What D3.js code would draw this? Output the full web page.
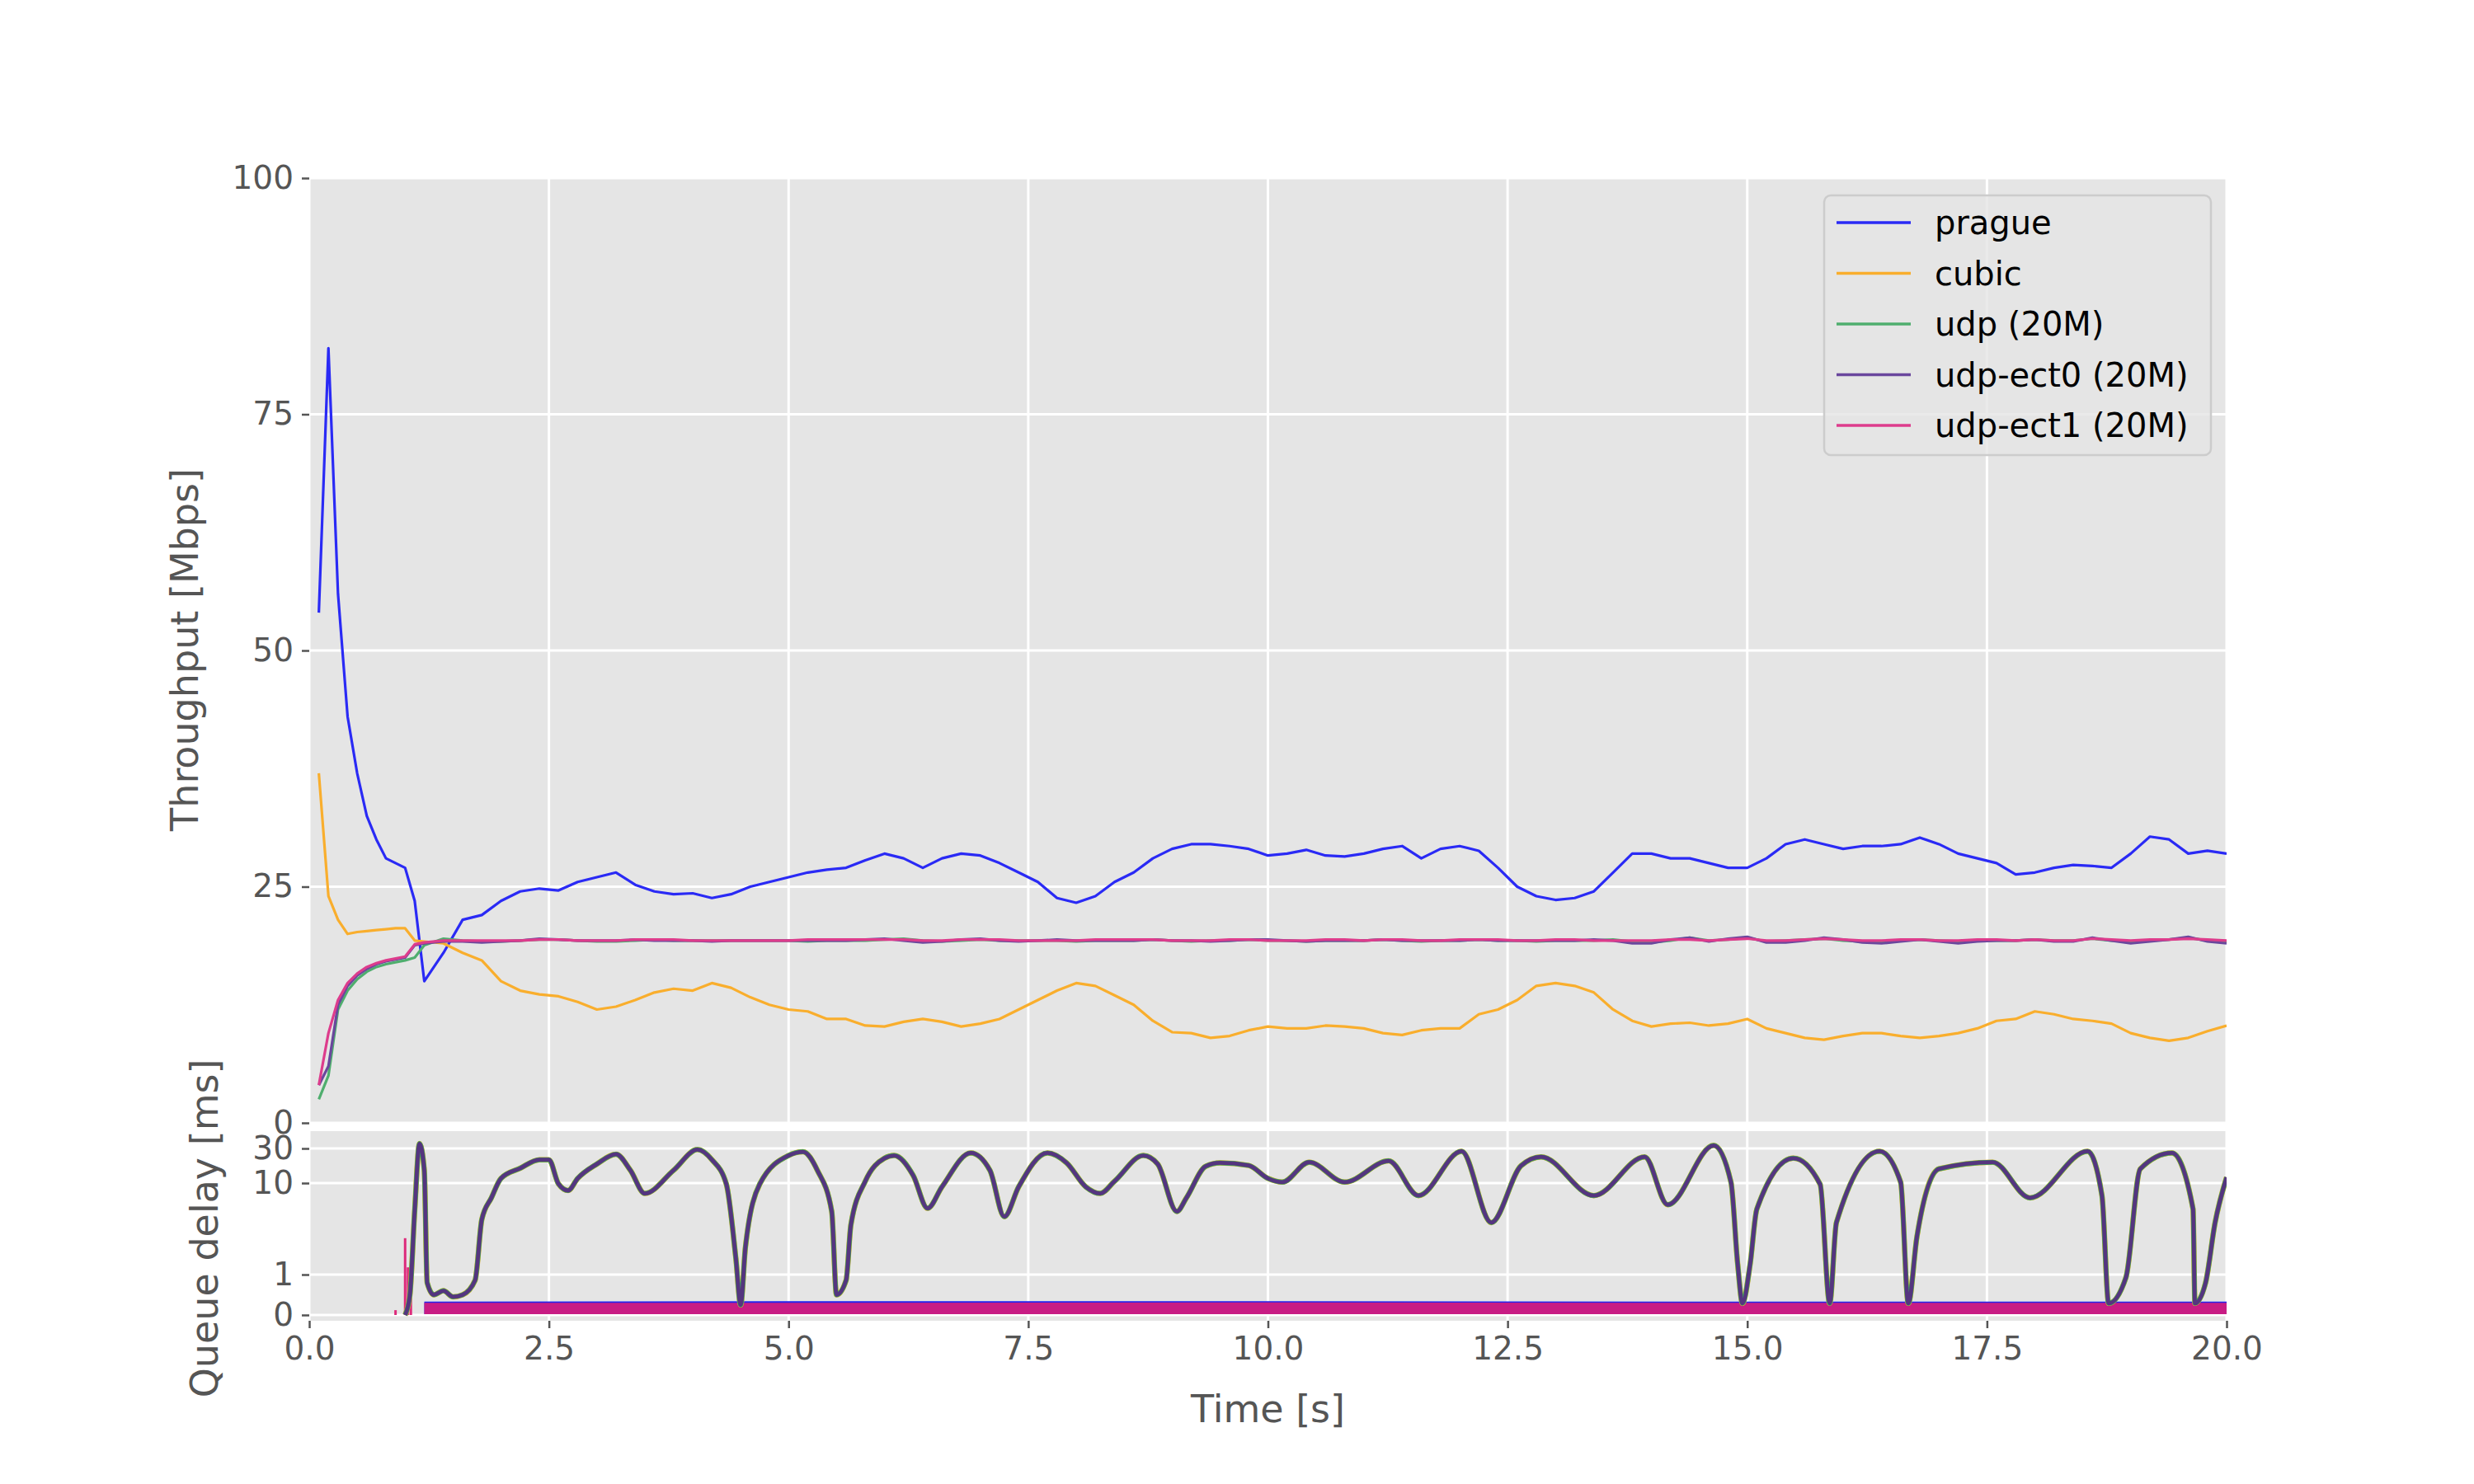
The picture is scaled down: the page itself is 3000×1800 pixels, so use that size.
<!DOCTYPE html>
<html><head><meta charset="utf-8">
<script src="https://cdn.jsdelivr.net/npm/d3@7"></script>
<style>body{margin:0;background:#fff}text{font-family:"DejaVu Sans",sans-serif}</style>
</head><body><svg id="chart" width="3000" height="1800"></svg>
<script>
// throughput samples (s)
const times = [0.1,0.2,0.3,0.4,0.5,0.6,0.7,0.8,0.9,1.0,1.1,1.2,
  1.4,1.6,1.8,2.0,2.2,2.4,2.6,2.8,3.0,3.2,3.4,3.6,3.8,4.0,4.2,4.4,4.6,4.8,5.0,5.2,5.4,5.6,5.8,6.0,
  6.2,6.4,6.6,6.8,7.0,7.2,7.4,7.6,7.8,8.0,8.2,8.4,8.6,8.8,9.0,9.2,9.4,9.6,9.8,10.0,10.2,10.4,10.6,10.8,
  11.0,11.2,11.4,11.6,11.8,12.0,12.2,12.4,12.6,12.8,13.0,13.2,13.4,13.6,13.8,14.0,14.2,14.4,14.6,14.8,
  15.0,15.2,15.4,15.6,15.8,16.0,16.2,16.4,16.6,16.8,17.0,17.2,17.4,17.6,17.8,18.0,18.2,18.4,18.6,18.8,
  19.0,19.2,19.4,19.6,19.8,20.0];
const prague = [54,82,56,43,37,32.5,30,28,27.5,27,23.5,15,
  18,21.5,22,23.5,24.5,24.8,24.6,25.5,26,26.5,25.2,24.5,24.2,24.3,23.8,24.2,25,25.5,26,26.5,26.8,27,27.8,28.5,
  28,27,28,28.5,28.3,27.5,26.5,25.5,23.8,23.3,24,25.5,26.5,28,29,29.5,29.5,29.3,29,28.3,28.5,28.9,28.3,28.2,
  28.5,29,29.3,28,29,29.3,28.8,27,25,24,23.6,23.8,24.5,26.5,28.5,28.5,28,28,27.5,27,
  27,28,29.5,30,29.5,29,29.3,29.3,29.5,30.2,29.5,28.5,28,27.5,26.3,26.5,27,27.3,27.2,27,
  28.5,30.3,30,28.5,28.8,28.5];
const cubic = [37,24,21.5,20,20.2,20.3,20.4,20.5,20.6,20.6,19.3,19.2,
  19,18,17.2,15,14,13.6,13.4,12.8,12,12.3,13,13.8,14.2,14,14.8,14.3,13.3,12.5,12,11.8,11,11,10.3,10.2,
  10.7,11,10.7,10.2,10.5,11,12,13,14,14.8,14.5,13.5,12.5,10.8,9.6,9.5,9,9.2,9.8,10.2,10,10,10.3,10.2,
  10,9.5,9.3,9.8,10,10,11.5,12,13,14.5,14.8,14.5,13.8,12,10.8,10.2,10.5,10.6,10.3,10.5,
  11,10,9.5,9,8.8,9.2,9.5,9.5,9.2,9,9.2,9.5,10,10.8,11,11.8,11.5,11,10.8,10.5,
  9.5,9,8.7,9,9.7,10.3];
const udp = [2.5,5,12,14,15.2,16,16.5,16.8,17,17.2,17.5,18.8,
  19.5,19.3,19.2,19.2,19.3,19.4,19.4,19.3,19.2,19.2,19.3,19.4,19.3,19.3,19.3,19.3,19.3,19.3,19.3,19.2,19.3,19.3,19.3,19.4,
  19.5,19.3,19.2,19.3,19.4,19.3,19.3,19.3,19.3,19.2,19.3,19.3,19.3,19.4,19.3,19.2,19.3,19.3,19.4,19.3,19.3,19.2,19.3,19.3,
  19.3,19.4,19.3,19.2,19.3,19.3,19.4,19.3,19.3,19.2,19.3,19.3,19.3,19.4,19.2,19.1,19.3,19.6,19.3,19.4,
  19.6,19.2,19.3,19.4,19.5,19.3,19.2,19.1,19.3,19.4,19.3,19.2,19.3,19.3,19.3,19.4,19.3,19.3,19.5,19.3,
  19.2,19.3,19.4,19.6,19.3,19.2];
const ect0 = [4,6,12.5,14.5,15.6,16.3,16.8,17.1,17.3,17.5,18.8,19,
  19.2,19.2,19.1,19.2,19.3,19.5,19.4,19.3,19.3,19.3,19.4,19.3,19.3,19.3,19.2,19.3,19.3,19.3,19.3,19.3,19.3,19.3,19.4,19.5,
  19.3,19.1,19.2,19.4,19.5,19.3,19.2,19.3,19.4,19.3,19.3,19.3,19.3,19.4,19.3,19.3,19.2,19.3,19.4,19.4,19.3,19.2,19.3,19.3,
  19.3,19.4,19.3,19.3,19.3,19.3,19.4,19.3,19.3,19.3,19.3,19.3,19.4,19.3,19.0,19.0,19.4,19.6,19.2,19.5,
  19.7,19.1,19.1,19.3,19.6,19.4,19.1,19.0,19.2,19.4,19.2,19.0,19.2,19.3,19.3,19.4,19.2,19.2,19.6,19.3,
  19.0,19.2,19.4,19.7,19.2,19.0];
const ect1 = [4,9.5,13,14.8,15.8,16.5,16.9,17.2,17.4,17.6,18.9,19.1,
  19.3,19.3,19.3,19.3,19.3,19.4,19.4,19.3,19.3,19.3,19.4,19.4,19.4,19.3,19.3,19.3,19.3,19.3,19.3,19.4,19.4,19.4,19.4,19.4,
  19.4,19.3,19.3,19.4,19.4,19.4,19.3,19.3,19.3,19.3,19.4,19.4,19.4,19.4,19.3,19.3,19.3,19.4,19.4,19.3,19.3,19.3,19.4,19.4,
  19.3,19.4,19.4,19.3,19.3,19.4,19.4,19.4,19.3,19.3,19.4,19.4,19.3,19.3,19.3,19.3,19.4,19.4,19.3,19.4,
  19.5,19.3,19.3,19.4,19.5,19.4,19.3,19.3,19.4,19.4,19.3,19.3,19.4,19.4,19.3,19.4,19.3,19.3,19.5,19.4,
  19.3,19.4,19.4,19.5,19.4,19.3];

// classic queue delay (ms), seen by cubic / udp / udp-ect0
const qTimes = [1.0,1.05,1.1,1.15,1.2,1.23,1.3,1.4,1.5,1.6,1.73,1.8,1.9,2.0,2.2,2.4,2.5,2.6,2.7,2.8,3.0,3.2,3.35,3.5,3.8,
  4.05,4.2,4.35,4.45,4.5,4.55,4.7,5.0,5.15,5.3,5.45,5.5,5.6,5.65,5.8,6.0,6.1,6.3,6.45,6.6,6.9,7.1,7.25,7.4,7.7,7.9,
  8.1,8.25,8.4,8.7,8.85,9.05,9.15,9.35,9.5,9.8,10.0,10.15,10.43,10.8,11.26,11.57,12.02,12.33,12.64,12.85,13.4,13.93,
  14.17,14.65,14.83,14.9,14.95,15.03,15.1,15.48,15.76,15.86,15.93,16.38,16.6,16.68,16.77,17.0,17.56,17.95,18.55,
  18.7,18.77,18.95,19.1,19.43,19.65,19.67,19.78,19.88,20.0];
const qClassic = [0,0.5,5,35,15,0.8,0.5,0.6,0.45,0.5,0.86,4,6.9,11.6,16,21,21,9.8,8.3,11.6,18.3,25,15,7.7,15,
  29,21,9.8,1.5,0.25,2.0,9.8,24,27,15,4.9,0.5,0.86,3.5,10.6,22,24,12.7,5.3,9.1,26,15,4.3,9.1,26,19,
  9.1,7.7,10.6,24,18.3,4.9,6.9,17,19,17.5,11.6,10.3,19.4,10.3,20.2,7.3,27.4,3.7,17.3,23,7.3,23,
  5.8,33,10.3,1.3,0.29,1.3,5.2,22,9.7,0.29,3.7,27.4,10.3,0.29,2.6,15.7,19.4,6.9,27.4,
  7.3,0.29,0.93,15.7,26,5.2,0.29,0.79,3.7,12];

// L4S queue delay envelope (ms), seen by prague / udp-ect1
const lTimes = [1.2,5.0,10.0,15.0,20.0];
const lLow = [0.02,0.02,0.02,0.02,0.02];
const lHighPink = [0.3,0.3,0.31,0.3,0.3];
const lHighBlue = [0.33,0.34,0.34,0.33,0.33];

const names = ["prague","cubic","udp (20M)","udp-ect0 (20M)","udp-ect1 (20M)"];
const colors = ["#2a2af5","#f9ae2d","#4fae6e","#6a479d","#dd3c8c"];
const seriesList = [prague, cubic, udp, ect0, ect1];
const xTicks = [0,2.5,5,7.5,10,12.5,15,17.5,20];
const yTicks = [0,25,50,75,100];
const qTicks = [0,1,10,30];

const svg = d3.select("#chart");
const L = 375, R = 2700, T = 216, B = 1362;
const x = d3.scaleLinear().domain([0,20]).range([L,R]);
const y = d3.scaleLinear().domain([0,100]).range([B,T]);
// queue axis: linear below 1 ms, log above (polylinear over transformed value)
const qT = v => v <= 1 ? v : v <= 10 ? 1 + Math.log10(v) : 2 + Math.log10(v/10)/Math.log10(3);
const qs = d3.scaleLinear().domain([-0.14,0,1,2,3,3.5]).range([1602,1595,1546,1435,1393,1372]);
const qy = v => qs(qT(v));
const qTop = 1372, qBot = 1602;

const grey = "#e5e5e5", tickCol = "#555";

// panels
svg.append("rect").attr("x",L).attr("y",T).attr("width",R-L).attr("height",B-T).attr("fill",grey);
svg.append("rect").attr("x",L).attr("y",qTop).attr("width",R-L).attr("height",qBot-qTop).attr("fill",grey);

// grids
const grid = svg.append("g").attr("stroke","#fff").attr("stroke-width",3);
xTicks.forEach(t => {
  grid.append("line").attr("x1",x(t)).attr("x2",x(t)).attr("y1",T).attr("y2",B);
  grid.append("line").attr("x1",x(t)).attr("x2",x(t)).attr("y1",qTop).attr("y2",qBot);
});
yTicks.forEach(t => grid.append("line").attr("x1",L).attr("x2",R).attr("y1",y(t)).attr("y2",y(t)));
qTicks.forEach(t => grid.append("line").attr("x1",L).attr("x2",R).attr("y1",qy(t)).attr("y2",qy(t)));

// throughput lines
svg.append("clipPath").attr("id","ct")
  .append("rect").attr("x",L).attr("y",T).attr("width",R-L).attr("height",B-T+4);
const line = d3.line().x((d,i) => x(times[i])).y(d => y(d));
seriesList.forEach((s,k) => {
  svg.append("path").attr("clip-path","url(#ct)").attr("d", line(s))
    .attr("fill","none").attr("stroke",colors[k]).attr("stroke-width",3.2).attr("stroke-linejoin","round");
});

// queue delay
svg.append("clipPath").attr("id","cq")
  .append("rect").attr("x",L).attr("y",qTop).attr("width",R-L).attr("height",qBot-qTop);
const qg = svg.append("g").attr("clip-path","url(#cq)");
const area = hi => d3.area().x((d,i) => x(lTimes[i])).y0((d,i) => qy(lLow[i])).y1((d,i) => qy(hi[i]));
qg.append("path").attr("d", area(lHighBlue)(lTimes)).attr("fill","#2323ee");
qg.append("path").attr("d", area(lHighPink)(lTimes)).attr("fill","#c81c84");
// early L4S spikes
const spikeT = [0.9,1.0,1.03,1.06];
const spikeV = [0.12,2.5,1.2,0.6];
spikeT.forEach((t,i) => qg.append("line").attr("x1",x(t)).attr("x2",x(t)).attr("y1",qy(0)).attr("y2",qy(spikeV[i]))
  .attr("stroke","#dd2a7b").attr("stroke-width",3));
const qline = d3.line().x((d,i) => x(qTimes[i])).y(d => qy(d)).curve(d3.curveMonotoneX);
qg.append("path").attr("d", qline(qClassic)).attr("fill","none").attr("stroke","#f9ae2d").attr("stroke-width",6.5);
qg.append("path").attr("d", qline(qClassic)).attr("fill","none").attr("stroke","#3faa5a").attr("stroke-width",6);
qg.append("path").attr("d", qline(qClassic)).attr("fill","none").attr("stroke","#55357f").attr("stroke-width",4.8);

// axes
const xAxis = svg.append("g").attr("transform",`translate(0,${qBot})`)
  .call(d3.axisBottom(x).tickValues(xTicks).tickFormat(d3.format(".1f")).tickSize(9).tickPadding(10));
const yAxis = svg.append("g").attr("transform",`translate(${L},0)`)
  .call(d3.axisLeft(y).tickValues(yTicks).tickSize(9).tickPadding(10));
const qAxis = svg.append("g").attr("transform",`translate(${L},0)`)
  .call(d3.axisLeft(qs).tickValues(qTicks.map(qT)).tickFormat((d,i) => qTicks[i]).tickSize(9).tickPadding(10));
[xAxis,yAxis,qAxis].forEach(a => {
  a.select(".domain").remove();
  a.selectAll("line").attr("stroke",tickCol).attr("stroke-width",2.5);
  a.selectAll("text").attr("fill",tickCol).attr("font-size",39).attr("font-family","DejaVu Sans");
});

svg.append("text").attr("x",(L+R)/2).attr("y",1725).attr("text-anchor","middle")
  .attr("font-size",46).attr("fill",tickCol).text("Time [s]");
svg.append("text").attr("transform","translate(240,788) rotate(-90)").attr("text-anchor","middle")
  .attr("font-size",46).attr("fill",tickCol).text("Throughput [Mbps]");
svg.append("text").attr("transform","translate(264,1490) rotate(-90)").attr("text-anchor","middle")
  .attr("font-size",46).attr("fill",tickCol).text("Queue delay [ms]");

// legend
const lg = svg.append("g");
lg.append("rect").attr("x",2212).attr("y",237).attr("width",469).attr("height",315).attr("rx",8)
  .attr("fill","#e5e5e5").attr("fill-opacity",0.8).attr("stroke","#cccccc").attr("stroke-width",2.5);
names.forEach((n,i) => {
  const yy = 270 + i*61.5;
  lg.append("line").attr("x1",2227).attr("x2",2317).attr("y1",yy).attr("y2",yy)
    .attr("stroke",colors[i]).attr("stroke-width",3.5);
  lg.append("text").attr("x",2346).attr("y",yy+14).attr("font-size",40).attr("fill","#000").text(n);
});
</script></body></html>
